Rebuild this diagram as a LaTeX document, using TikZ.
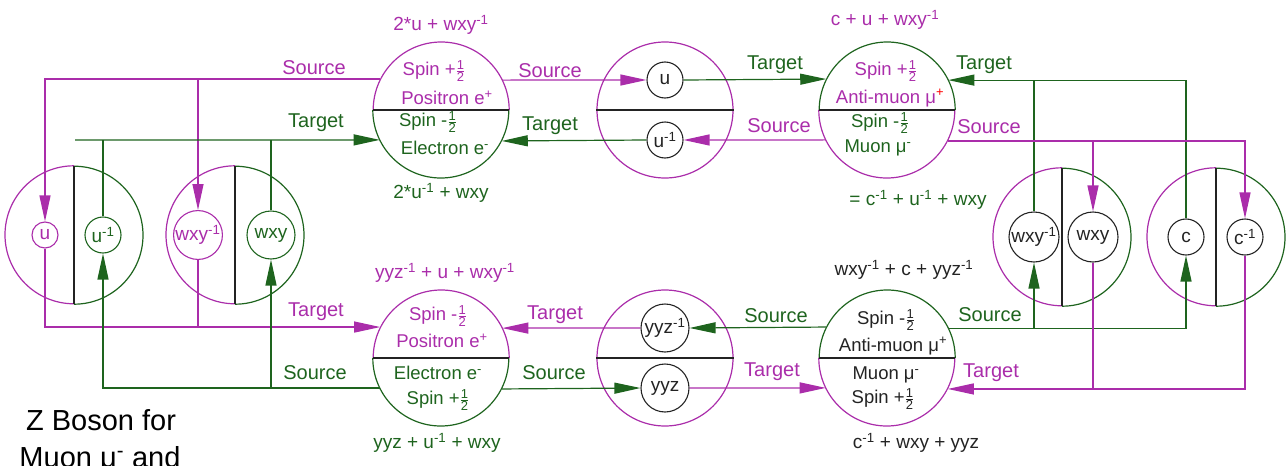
\documentclass[tikz,border=0pt]{standalone}
\usepackage{fontspec}
\setmainfont{Liberation Sans}
\usetikzlibrary{arrows.meta,calc}
\definecolor{mag}{RGB}{170,45,170}
\definecolor{grn}{RGB}{30,100,30}
\definecolor{dk}{RGB}{35,35,35}
\newcommand{\hf}{\ensuremath{\frac{\hbox{\fontsize{13}{13}\selectfont 1}}{\hbox{\fontsize{13}{13}\selectfont 2}}}}
\tikzset{
  lab/.style={font=\fontsize{20}{22}\selectfont, inner sep=0pt},
  eq/.style={font=\fontsize{19}{21}\selectfont, inner sep=0pt},
  ctext/.style={font=\fontsize{18.5}{20}\selectfont, inner sep=0pt},
  big/.style={circle, minimum size=136pt, inner sep=0pt},
  side/.style={circle, minimum size=138pt, inner sep=0pt},
  inr/.style={circle, draw, inner sep=0pt, line width=1.1pt, font=\fontsize{19}{20}\selectfont},
  conn/.style={line width=1.2pt},
  tip/.style={-{Triangle[length=26pt,width=11pt]}},
}
\begin{document}
\begin{tikzpicture}[x=1pt,y=-1pt]
\useasboundingbox (0,0) rectangle (1286,466);
% main circles
\node[big] (A) at (441,110) {};
\node[big,draw=mag,conn] (M1) at (665,110) {};
\node[big] (C) at (887,110) {};
\node[big] (B) at (441,358) {};
\node[big,draw=mag,conn] (M2) at (665,358) {};
\node[big] (D) at (887,358) {};
\draw[mag,conn] (A.east) arc[start angle=0,end angle=180,radius=68pt];
\draw[grn,conn] (A.west) arc[start angle=180,end angle=360,radius=68pt];
\draw[dk,conn] (A.west) -- (A.east);
\draw[dk,conn] (M1.west) -- (M1.east);
\draw[grn,conn] (C.east) arc[start angle=0,end angle=180,radius=68pt];
\draw[mag,conn] (C.west) arc[start angle=180,end angle=360,radius=68pt];
\draw[dk,conn] (C.west) -- (C.east);
\draw[mag,conn] (B.east) arc[start angle=0,end angle=180,radius=68pt];
\draw[grn,conn] (B.west) arc[start angle=180,end angle=360,radius=68pt];
\draw[dk,conn] (B.west) -- (B.east);
\draw[dk,conn] (M2.west) -- (M2.east);
\draw[grn,conn] (D.east) arc[start angle=0,end angle=180,radius=68pt];
\draw[mag,conn] (D.west) arc[start angle=180,end angle=360,radius=68pt];
\draw[dk,conn] (D.west) -- (D.east);
% side circles
\node[side] (L1) at (74,235) {};
\node[side] (L2) at (235,235) {};
\node[side] (R1) at (1062,237) {};
\node[side] (R2) at (1216,237) {};
\foreach \n in {L1,L2,R1,R2}{
  \draw[mag,conn] (\n.north) arc[start angle=90,end angle=270,radius=69pt];
  \draw[grn,conn] (\n.south) arc[start angle=270,end angle=450,radius=69pt];
  \draw[dk,conn] (\n.north) -- (\n.south);
}
% inner circles
\node[inr,dk,minimum size=36pt] (uM) at (665,80) {u};
\node[inr,dk,minimum size=36pt] (uinvM) at (665,140) {u\textsuperscript{-1}};
\node[inr,dk,minimum size=48pt] (yinvM) at (665,328) {yyz\textsuperscript{-1}};
\node[inr,dk,minimum size=48pt] (yM) at (665,388) {yyz};
\node[inr,mag,minimum size=26pt] (uL) at (45,235) {u};
\node[inr,grn,minimum size=36pt] (uinvL) at (103,235) {u\textsuperscript{-1}};
\node[inr,mag,minimum size=48pt] (wxyinvL) at (198,235) {wxy\textsuperscript{-1}};
\node[inr,grn,minimum size=48pt] (wxyL) at (271,235) {wxy};
\node[inr,dk,minimum size=50pt] (wxyinvR) at (1034,237) {wxy\textsuperscript{-1}};
\node[inr,dk,minimum size=50pt] (wxyR) at (1093,237) {wxy};
\node[inr,dk,minimum size=36pt] (cR) at (1186,237) {c};
\node[inr,dk,minimum size=36pt] (cinvR) at (1245,237) {c\textsuperscript{-1}};
% texts in main circles
\node[ctext,mag] (a1) at (434,71) {Spin +\hf};
\node[ctext,mag] (a2) at (447,98) {Positron e\textsuperscript{+}};
\node[ctext,grn] (a3) at (428,122) {Spin -\hf};
\node[ctext,grn] (a4) at (445,148) {Electron e\textsuperscript{-}};
\node[ctext,mag] (c1) at (886,71) {Spin +\hf};
\node[ctext,mag] (c2) at (890,98) {Anti-muon μ\textsuperscript{\color{red}+}};
\node[ctext,grn] (c3) at (880,123) {Spin -\hf};
\node[ctext,grn] (c4) at (878,148) {Muon μ\textsuperscript{-}};
\node[ctext,mag] (b1) at (438,316) {Spin -\hf};
\node[ctext,mag] (b2) at (442,341) {Positron e\textsuperscript{+}};
\node[ctext,grn] (b3) at (438,373) {Electron e\textsuperscript{-}};
\node[ctext,grn] (b4) at (438,400) {Spin +\hf};
\node[ctext,dk] (d1) at (886,320) {Spin -\hf};
\node[ctext,dk] (d2) at (893,346) {Anti-muon μ\textsuperscript{+}};
\node[ctext,dk] (d3) at (886,375) {Muon μ\textsuperscript{-}};
\node[ctext,dk] (d4) at (883,399) {Spin +\hf};
% equations
\node[eq,mag] (e1) at (441,25) {2*u + wxy\textsuperscript{-1}};
\node[eq,grn] (e2) at (441,193) {2*u\textsuperscript{-1} + wxy};
\node[eq,mag] (e3) at (885,20) {c + u + wxy\textsuperscript{-1}};
\node[eq,grn] (e4) at (918,200) {= c\textsuperscript{-1} + u\textsuperscript{-1} + wxy};
\node[eq,mag] (e5) at (445,273) {yyz\textsuperscript{-1} + u + wxy\textsuperscript{-1}};
\node[eq,grn] (e6) at (437,443) {yyz + u\textsuperscript{-1} + wxy};
\node[eq,dk] (e7) at (904,270) {wxy\textsuperscript{-1} + c + yyz\textsuperscript{-1}};
\node[eq,dk] (e8) at (916,443) {c\textsuperscript{-1} + wxy + yyz};
% title
\node[font=\fontsize{29}{32}\selectfont, anchor=base, inner sep=0pt] (t1) at (101,430) {Z Boson for};
\node[font=\fontsize{29}{32}\selectfont, anchor=base, inner sep=0pt] (t2) at (100,467) {Muon μ\textsuperscript{-} and};
% connectors top-left
\coordinate (gs) at (75,140);
\draw[mag,conn,tip] (A.153.8) -| (uL.north);
\draw[mag,conn,tip] (wxyinvL.north |- A.153.8) -- (wxyinvL.north);
\draw[grn,conn,tip] (gs) -- (A.206.2);
\draw[grn,conn] (uinvL.north) -- (uinvL.north |- A.206.2);
\draw[grn,conn] (wxyL.north) -- (wxyL.north |- A.206.2);
% top middle
\draw[mag,conn,tip] (A.26.2) -- (uM.west);
\draw[grn,conn,tip] (uM.east) -- (C.153.8);
\draw[mag,conn,tip] (C.206.2) -- (uinvM.east);
\draw[grn,conn,tip] (uinvM.west) -- (A.333.8);
% top right
\draw[grn,conn,tip] (cR.north) |- (C.26.2);
\draw[grn,conn] (wxyinvR.north) -- (wxyinvR.north |- C.26.2);
\draw[mag,conn,tip] (C.333.8) -| (cinvR.north);
\draw[mag,conn,tip] (wxyR.north |- C.333.8) -- (wxyR.north);
% bottom left
\draw[mag,conn,tip] (uL.south) |- (B.153.8);
\draw[mag,conn] (wxyinvL.south) -- (wxyinvL.south |- B.153.8);
\draw[grn,conn,tip] (B.206.2) -| (uinvL.south);
\draw[grn,conn,tip] (wxyL.south |- B.206.2) -- (wxyL.south);
% bottom middle
\draw[grn,conn,tip] (D.153.8) -- (yinvM.east);
\draw[mag,conn,tip] (yinvM.west) -- (B.26.2);
\draw[grn,conn,tip] (B.333.8) -- (yM.west);
\draw[mag,conn,tip] (yM.east) -- (D.206.2);
% bottom right
\draw[grn,conn,tip] (D.26.2) -| (cR.south);
\draw[grn,conn,tip] (wxyinvR.south |- D.26.2) -- (wxyinvR.south);
\draw[mag,conn,tip] (cinvR.south) |- (D.333.8);
\draw[mag,conn] (wxyR.south) -- (wxyR.south |- D.333.8);
% connector labels
\node[lab,mag] (s1) at (314,68) {Source};
\node[lab,grn] (s2) at (316,123) {Target};
\node[lab,mag] (s3) at (550,71) {Source};
\node[lab,grn] (s4) at (775,65) {Target};
\node[lab,mag] (s5) at (779,126) {Source};
\node[lab,grn] (s6) at (550,126) {Target};
\node[lab,grn] (s7) at (984,65) {Target};
\node[lab,mag] (s8) at (989,127) {Source};
\node[lab,mag] (s9) at (316,312) {Target};
\node[lab,grn] (s10) at (315,373) {Source};
\node[lab,mag] (s11) at (555,315) {Target};
\node[lab,grn] (s12) at (554,373) {Source};
\node[lab,grn] (s13) at (776,316) {Source};
\node[lab,mag] (s14) at (772,372) {Target};
\node[lab,grn] (s15) at (990,315) {Source};
\node[lab,mag] (s16) at (991,373) {Target};
\end{tikzpicture}
\end{document}
